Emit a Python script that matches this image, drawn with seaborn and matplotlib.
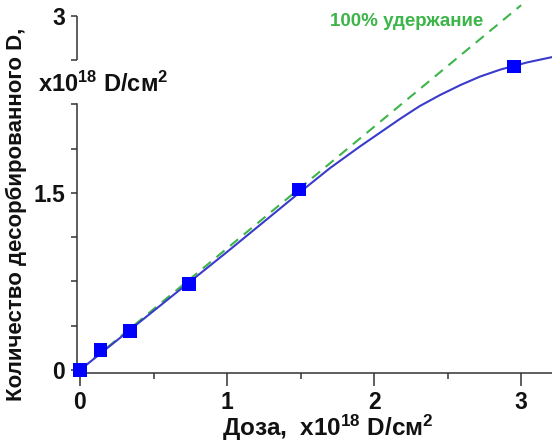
import matplotlib
matplotlib.use("Agg")
import matplotlib.pyplot as plt
import matplotlib.transforms as mtransforms
import seaborn as sns
import pandas as pd
from matplotlib.ticker import MultipleLocator

# --- data ---
dose_pts = [0.0, 0.14, 0.34, 0.74, 1.49, 2.95]
desorbed_pts = [0.0, 0.17, 0.33, 0.73, 1.53, 2.57]

fit_x = [0.0, 0.5, 1.0, 1.5, 1.7, 1.9, 2.04, 2.18, 2.31, 2.45, 2.59, 2.72, 2.86, 3.04, 3.21]
fit_y = [0.0, 0.5, 1.0, 1.51, 1.71, 1.89, 2.01, 2.13, 2.235, 2.33, 2.415, 2.485, 2.545, 2.605, 2.65]

ret_x = [0.0, 3.0]
ret_y = [0.0, 3.09]

x_ticks = [0, 1, 2, 3]
y_ticks = [0, 1.5, 3]
y_tick_labels = ["0", "1.5", "3"]

sns.set_theme(style="ticks")
plt.rcParams["font.family"] = ["Liberation Sans", "DejaVu Sans"]
plt.rcParams["font.weight"] = "bold"
plt.rcParams["mathtext.fontset"] = "custom"
plt.rcParams["mathtext.rm"] = "Liberation Sans:bold"
plt.rcParams["mathtext.bf"] = "Liberation Sans:bold"
plt.rcParams["mathtext.it"] = "Liberation Sans:bold"
plt.rcParams["mathtext.default"] = "bf"

fig = plt.figure(figsize=(5.52, 4.44), dpi=100)
ax = fig.add_axes([80 / 552, 74 / 444, 472 / 552, 366 / 444])

df_fit = pd.DataFrame({"x": fit_x, "y": fit_y})
df_ret = pd.DataFrame({"x": ret_x, "y": ret_y})
df_pts = pd.DataFrame({"x": dose_pts, "y": desorbed_pts})

green = "#3db54a"
sns.lineplot(data=df_ret, x="x", y="y", ax=ax, color=green, lw=1.5,
             linestyle=(0, (5, 3.5)))
sns.lineplot(data=df_fit, x="x", y="y", ax=ax, color="#3a3acb", lw=1.5)
sns.scatterplot(data=df_pts, x="x", y="y", ax=ax, marker="s", s=95,
                color="#0000ff", edgecolor="none", clip_on=False, zorder=5)

ax.set_xlim(0, 3.21)
ax.set_ylim(0, 3.1)

axis_col = "#333333"
for s in ["top", "right"]:
    ax.spines[s].set_visible(False)
for s in ["left", "bottom"]:
    ax.spines[s].set_color(axis_col)
    ax.spines[s].set_linewidth(1.1)
    ax.spines[s].set_position(("outward", 2.2))
ax.spines["left"].set_bounds(0, 2.25)
# upper segment of the broken y axis
seg_tr = mtransforms.offset_copy(ax.get_yaxis_transform(), fig=fig,
                                 x=-2.2, y=0, units="points")
ax.plot([0, 0], [2.625, 3.0], color=axis_col, lw=1.1, clip_on=False,
        transform=seg_tr, solid_capstyle="butt")

ax.set_xticks(x_ticks)
ax.set_xticklabels([str(t) for t in x_ticks])
ax.xaxis.set_minor_locator(MultipleLocator(0.5))
ax.set_yticks(y_ticks)
ax.set_yticklabels(y_tick_labels)
ax.yaxis.set_minor_locator(MultipleLocator(0.375))

ax.tick_params(axis="x", which="major", length=9.5, width=1.1, color=axis_col,
               labelsize=16.5, pad=3.5)
ax.tick_params(axis="x", which="minor", length=4.5, width=1.1, color=axis_col)
ax.tick_params(axis="y", which="major", length=4.5, width=1.1, color=axis_col,
               labelsize=16.5, pad=4)
ax.tick_params(axis="y", which="minor", length=4.5, width=1.1, color=axis_col)
for lab in ax.get_xticklabels() + ax.get_yticklabels():
    lab.set_fontweight("bold")
    lab.set_color("#111111")

ax.set_xlabel("Доза,  x10$^{18}$ D/см$^2$", fontsize=17.5, fontweight="bold",
              color="#111111")
ax.xaxis.set_label_coords(0.525, -0.118)
ax.set_ylabel("Количество десорбированного D,", fontsize=16,
              fontweight="bold", color="#111111")
ax.yaxis.set_label_coords(-0.112, 0.426)

fig.text(38 / 552, 1 - 92 / 444, "x10$^{18}$ D/см$^2$", fontsize=17,
         fontweight="bold", color="#111111", va="baseline", ha="left")

ax.text(2.74, 2.95, "100% удержание", color=green, fontsize=13.5,
        fontweight="bold", ha="right", va="center")

fig.savefig("out.png", dpi=100)
